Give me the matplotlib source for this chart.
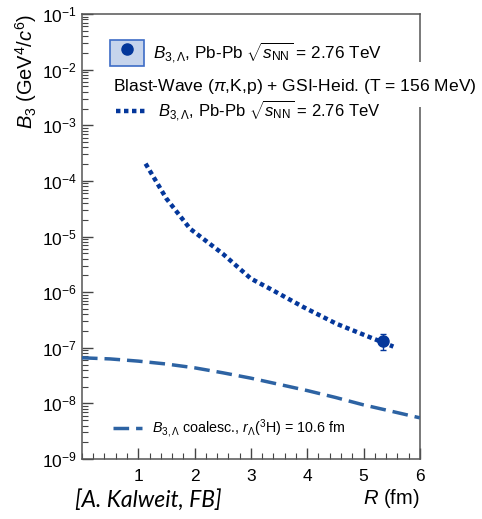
import matplotlib
matplotlib.use('Agg')
import matplotlib.pyplot as plt
import numpy as np
from matplotlib.patches import Rectangle
from matplotlib.lines import Line2D

plt.rcParams['font.family'] = ['Liberation Sans', 'DejaVu Sans']
plt.rcParams['mathtext.fontset'] = 'custom'
plt.rcParams['mathtext.rm'] = 'Liberation Sans'
plt.rcParams['mathtext.it'] = 'Liberation Sans:italic'
plt.rcParams['mathtext.bf'] = 'Liberation Sans:bold'

# blast-wave + GSI-Heid. prediction (dotted)
bw_r = [1.13, 1.5, 1.92, 2.5, 3.0, 3.34, 3.93, 4.52, 5.11, 5.53]
bw_b3 = [2.04e-4, 4.8e-5, 1.38e-5, 4.9e-6, 1.75e-6, 1.15e-6, 5.4e-7, 2.7e-7, 1.55e-7, 1.05e-7]

# coalescence (dashed)
co_r = [0, 0.5, 1, 1.5, 2, 2.5, 3, 3.5, 4, 4.5, 5, 5.5, 6]
co_b3 = [6.6e-8, 6.3e-8, 5.75e-8, 5.1e-8, 4.36e-8, 3.55e-8, 2.84e-8, 2.2e-8, 1.7e-8, 1.28e-8, 9.4e-9, 7.2e-9, 5.5e-9]

# measured point
data_r = [5.35]
data_b3 = [1.32e-7]
data_err_lo = [0.40e-7]
data_err_hi = [0.42e-7]

dark_blue = '#04379b'
dash_blue = '#2d63a3'

fig = plt.figure(figsize=(4.82, 5.19), dpi=100)
ax = fig.add_axes([0.170, 0.1156, 0.701, 0.8574])

ax.plot(bw_r, bw_b3, color=dark_blue, lw=3.2, linestyle=(0, (1.0, 0.8)), zorder=3)
ax.plot(co_r, co_b3, color=dash_blue, lw=2.5, linestyle=(0, (4.5, 2.0)), zorder=3)
ax.errorbar(data_r, data_b3, yerr=[data_err_lo, data_err_hi], fmt='o', color=dark_blue,
            ms=8, elinewidth=1, capsize=2, zorder=4)

ax.set_yscale('log')
ax.set_xlim(0, 6)
ax.set_ylim(1e-9, 1e-1)
ax.set_xticks([1, 2, 3, 4, 5, 6])
ax.set_xticks(np.arange(0, 6.01, 0.2), minor=True)
ax.set_yticks([10.0 ** k for k in range(-9, 0)])
ax.tick_params(which='both', direction='in', top=False, right=False, labelsize=12.5, color='#444444')
ax.tick_params(which='major', length=8, width=1)
ax.tick_params(which='minor', length=4, width=0.8)
ax.tick_params(axis='x', pad=7)
for s in ax.spines.values():
    s.set_color('#555555')
    s.set_linewidth(1.1)

ax.set_ylabel(r'$B_3$ (GeV$^4$/$c^6$)', fontsize=14.5, loc='top', labelpad=2)
ax.set_xlabel(r'$R$ (fm)', fontsize=14.5, loc='right', labelpad=2)

# white strip cutting the right frame behind the model legend
ax.add_patch(Rectangle((0.09, 0.791), 1.2, 0.101, transform=ax.transAxes,
                       facecolor='white', edgecolor='none', clip_on=False, zorder=2.6))

box = Rectangle((0, 0), 1, 1, facecolor='#c6d4ec', edgecolor='#3d6cc6', lw=1.2)
dot = Line2D([], [], marker='o', ms=8, color=dark_blue, linestyle='none')
leg1 = ax.legend([(box, dot)], [r'$B_{3,\Lambda}$, Pb-Pb $\sqrt{s_{\rm NN}}$ = 2.76 TeV'],
                 loc='center left', bbox_to_anchor=(0.083, 0.912), frameon=False,
                 fontsize=12.3, handlelength=2.0, handleheight=2.0, handletextpad=0.5,
                 borderpad=0, borderaxespad=0)
ax.add_artist(leg1)

ax.text(0.092, 0.836, r'Blast-Wave ($\pi$,K,p) + GSI-Heid. (T = 156 MeV)', transform=ax.transAxes,
        fontsize=12.6, va='center', ha='left', clip_on=False, zorder=5)

dotted = Line2D([], [], color=dark_blue, lw=3.2, linestyle=(0, (1.0, 0.8)))
leg2 = ax.legend([dotted], [r'$B_{3,\Lambda}$, Pb-Pb $\sqrt{s_{\rm NN}}$ = 2.76 TeV'],
                 loc='center left', bbox_to_anchor=(0.1, 0.782), frameon=False,
                 fontsize=12, handlelength=1.8, handletextpad=0.75,
                 borderpad=0, borderaxespad=0)
ax.add_artist(leg2)

dashed = Line2D([], [], color=dash_blue, lw=2.5, linestyle=(0, (4.5, 2.0)))
ax.legend([dashed], [r'$B_{3,\Lambda}$ coalesc., $r_{\Lambda}$($^{3}$H) = 10.6 fm'],
          loc='center left', bbox_to_anchor=(0.092, 0.0674), frameon=False,
          fontsize=10.3, handlelength=2.0, handletextpad=0.7,
          borderpad=0, borderaxespad=0)

fig.text(0.155, 0.023, '[A. Kalweit, FB]', fontsize=16.5, fontstyle='italic',
         family=['Lato', 'DejaVu Sans'], ha='left', va='baseline')

fig.savefig('out.png', dpi=100)
